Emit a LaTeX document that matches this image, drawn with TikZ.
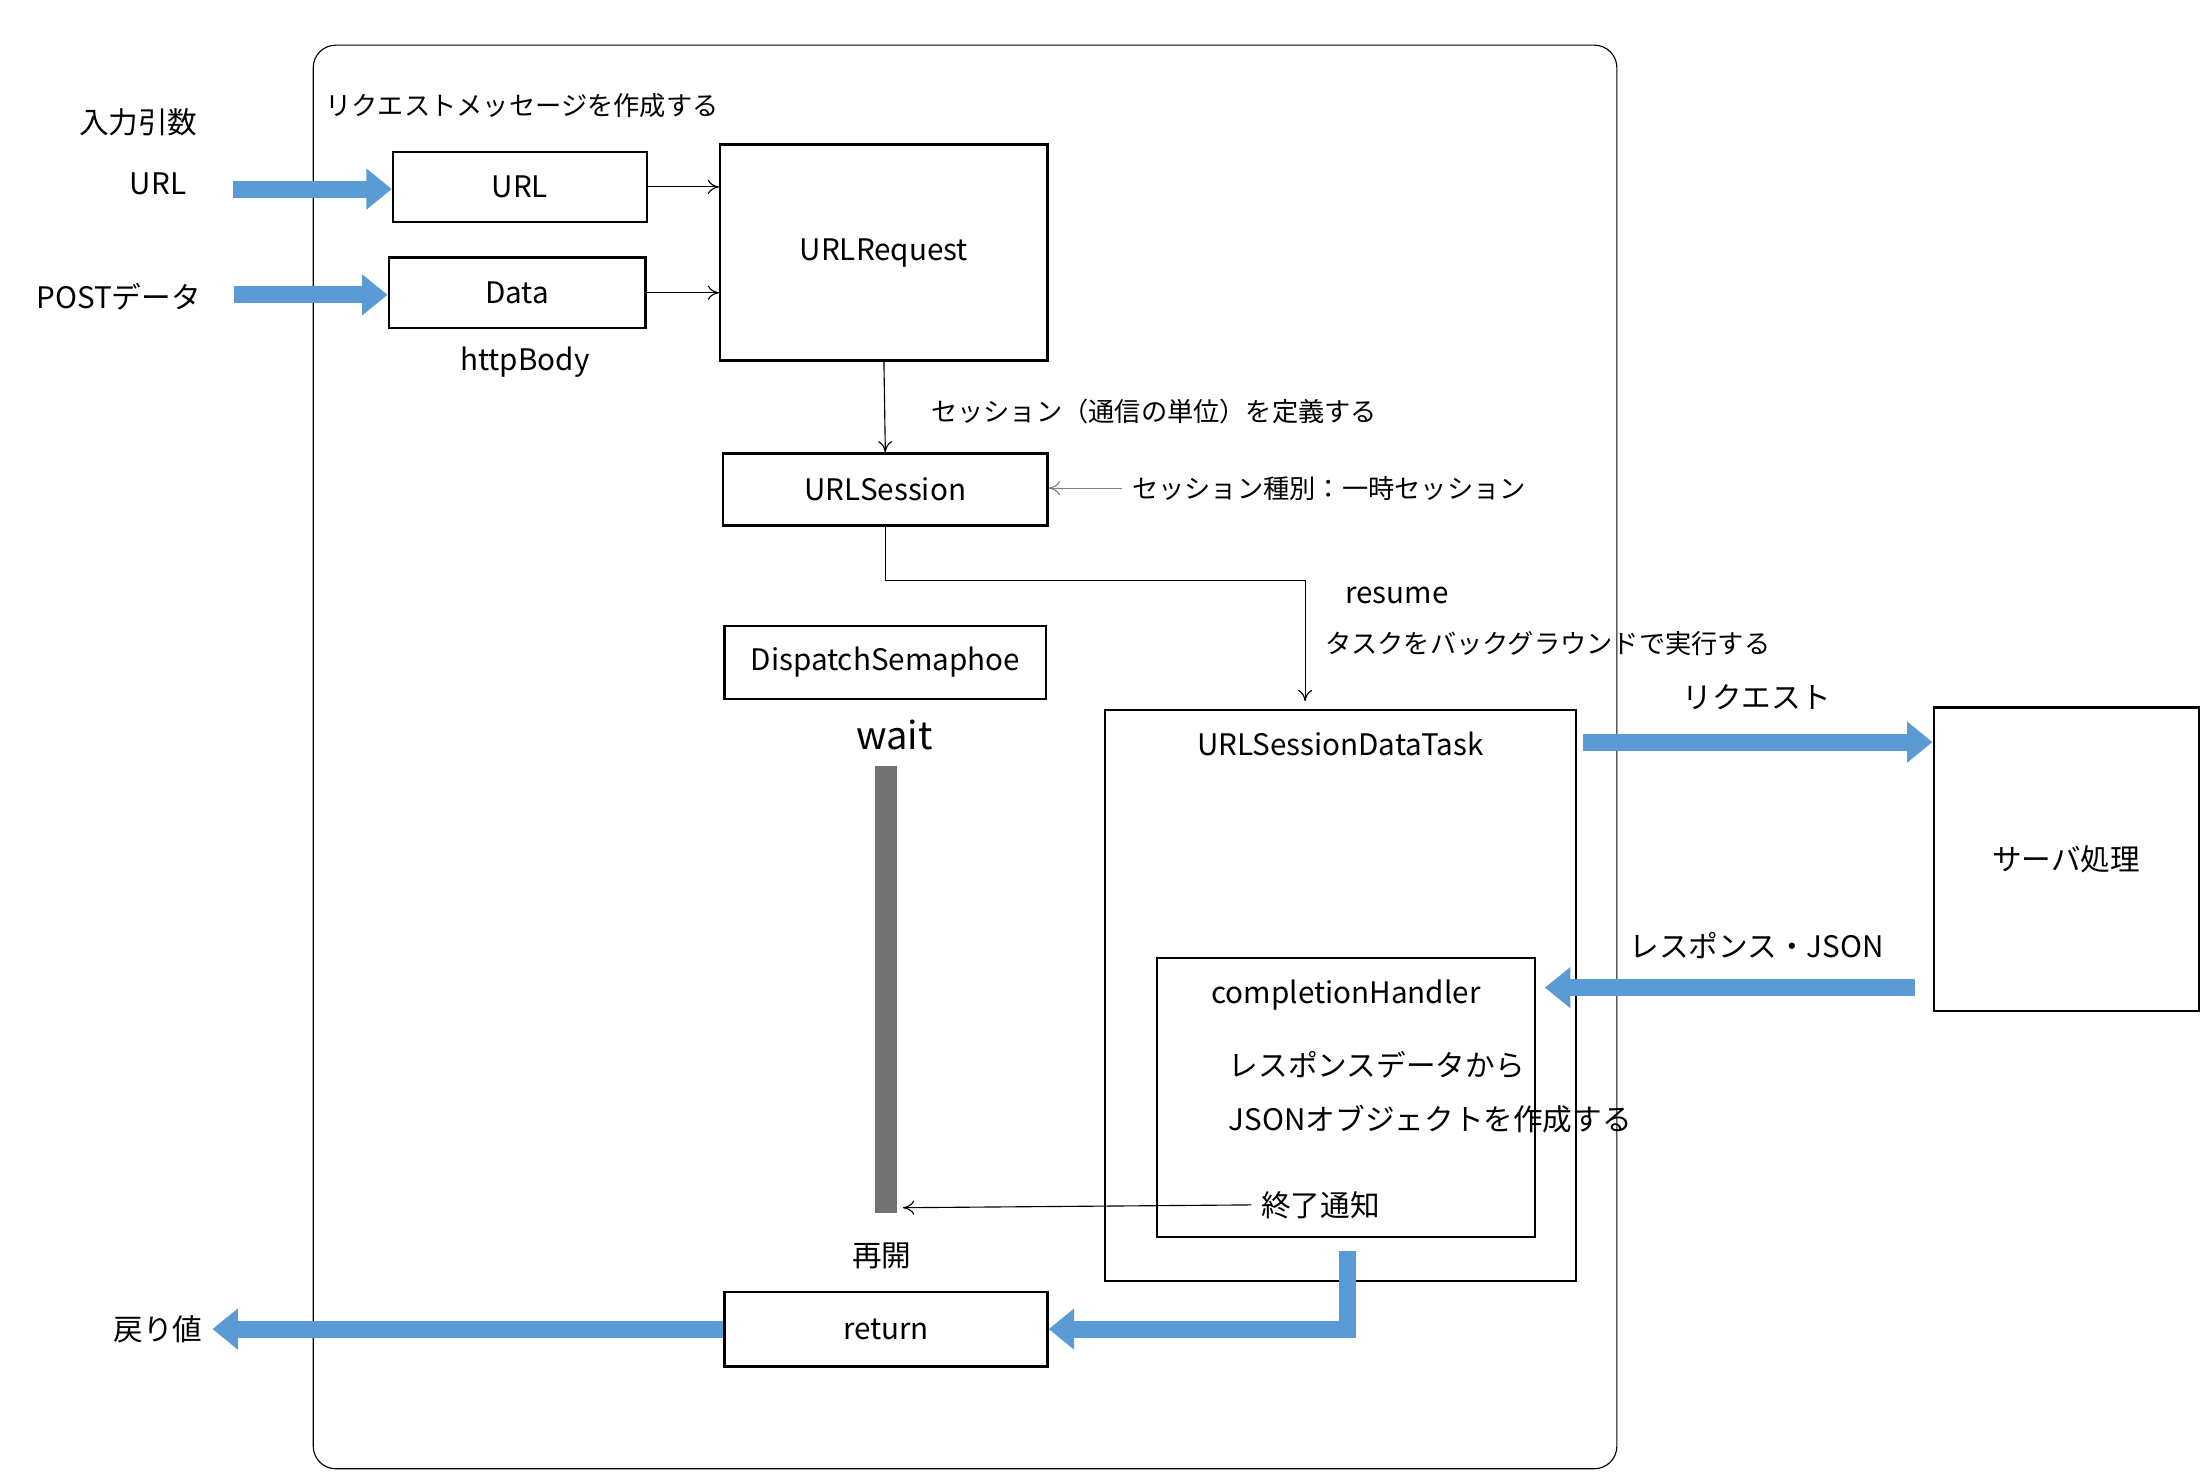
\documentclass[tikz,border=0pt]{standalone}
\usepackage{fontspec}
\setmainfont{Noto Sans CJK JP}
\usetikzlibrary{arrows.meta}
\usetikzlibrary{positioning}
\definecolor{flowblue}{HTML}{5B9BD5}
\definecolor{bargray}{HTML}{727272}
\begin{document}
\begin{tikzpicture}[
		x=0.5pt, y=-0.5pt,
		font=\fontsize{10.5}{12}\selectfont,
		arrow/.style={-{To[length=4pt,width=5pt]}},
		thinarrow/.style={gray, -{To[length=4pt,width=5pt]}},
		flow/.style={flowblue, line width=6pt, -{Triangle[length=9pt,width=14pt]}},
		block/.style={draw, thick, inner sep=0pt},
		small/.style={font=\fontsize{9.3}{11}\selectfont},
	]
	\useasboundingbox (0,0) rectangle (1560,1047);
	\draw[rounded corners=8pt] (222,32) rectangle (1146,1041);
	\node[small] (title) at (370,75) {リクエストメッセージを作成する};

	% inputs
	\node (args) at (98,87) {入力引数};
	\node (urlin) at (112,130) {URL};
	\node (postin) at (84,210) {POSTデータ};
	\coordinate (urlsrc) at (165,134);
	\coordinate (postsrc) at (166,209);

	\node[block, minimum width=90pt, minimum height=25pt] (url) at (368.5,132.5) {URL};
	\node[block, minimum width=91pt, minimum height=25pt] (data) at (366.5,207.5) {Data};
	\node (body) at (372,257) {httpBody};
	\node[block, minimum width=116pt, minimum height=76.5pt] (request) at (626.5,179) {URLRequest};
	\node[block, minimum width=115pt, minimum height=25.5pt] (session) at (627.5,347) {URLSession};
	\node[block, minimum width=114pt, minimum height=26pt] (semaphore) at (627.5,469.5) {DispatchSemaphoe};
	\node[font=\fontsize{13.5}{16}\selectfont] (wait) at (634,521) {wait};
	\fill[bargray] (620,543) rectangle (636,860);
	\coordinate (waitbar) at (640,856);
	\node (restart) at (625,890) {再開};
	\node[block, minimum width=114.5pt, minimum height=26.5pt] (ret) at (628,942) {return};
	\node (retval) at (112,942) {戻り値};

	% task
	\draw[thick] (783,503) rectangle (1117,908);
	\node (task) at (950,527) {URLSessionDataTask};
	\coordinate (tasktop) at (925,497);
	\draw[thick] (820,679) rectangle (1088,877);
	\node (handler) at (954,705) {completionHandler};
	\node[anchor=west] (resp) at (864,755) {レスポンスデータから};
	\node[anchor=west] (json) at (864,793) {JSONオブジェクトを作成する};
	\node (done) at (936,854) {終了通知};
	\coordinate (taskout) at (955,887);

	% server
	\node[block, minimum width=94pt, minimum height=107.5pt] (server) at (1464.5,609) {サーバ処理};
	\node (reqlabel) at (1245,494) {リクエスト};
	\node (resplabel) at (1245,670) {レスポンス・JSON};
	\coordinate (reqsrc) at (1122,526);
	\coordinate (respsrc) at (1357,700);
	\coordinate (respdst) at (1095,700);

	% labels
	\node[small] (defsession) at (818,292) {セッション（通信の単位）を定義する};
	\node[small] (kind) at (942,346) {セッション種別：一時セッション};
	\node (resume) at (990,422) {resume};
	\node[small] (bg) at (1097,456) {タスクをバックグラウンドで実行する};

	% thin connectors
	\draw[arrow] (url.east) -- (request.west |- url.east);
	\draw[arrow] (data.east) -- (request.west |- data.east);
	\draw[arrow] (request.south) -- (session.north);
	\draw[thinarrow] (kind.west) -- (session.east |- kind.west);
	\draw[arrow] (session.south) -- ++(0,38) -| (tasktop);
	\draw[arrow] (done.west) -- (waitbar);

	% blue flows
	\draw[flow] (urlsrc) -- (url.west |- urlsrc);
	\draw[flow] (postsrc) -- (data.west |- postsrc);
	\draw[flow] (reqsrc) -- (server.west |- reqsrc);
	\draw[flow] (respsrc) -- (respdst);
	\draw[flow] (taskout) |- (ret.east);
	\draw[flow] (ret.west) -- (retval.east);
\end{tikzpicture}
\end{document}
